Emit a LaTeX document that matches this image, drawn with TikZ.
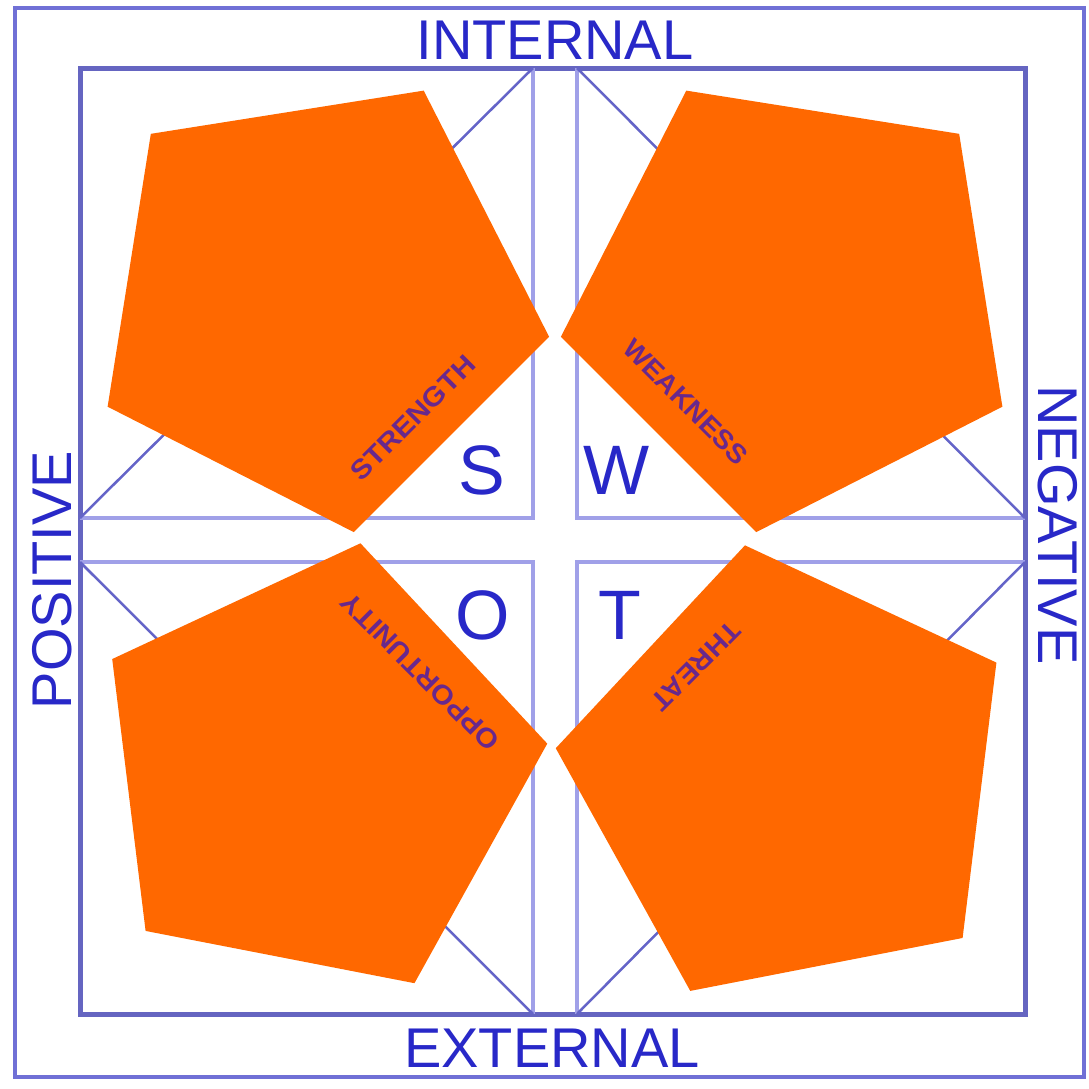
\documentclass[tikz,border=0pt]{standalone}
\usepackage{fontspec}
\setmainfont{Liberation Sans}
\definecolor{frameblue}{RGB}{112,112,214}
\definecolor{crossblue}{RGB}{160,160,232}
\definecolor{diagblue}{RGB}{100,100,200}
\definecolor{textblue}{RGB}{40,40,200}
\definecolor{swotorange}{RGB}{255,104,0}
\definecolor{labelpurple}{RGB}{105,40,140}
\newcommand{\orangepent}[4]{%
  \fill[pentfill] ({#1+#3*cos(#4)},{#2-#3*sin(#4)})
    -- ({#1+#3*cos(#4+72)},{#2-#3*sin(#4+72)})
    -- ({#1+#3*cos(#4+144)},{#2-#3*sin(#4+144)})
    -- ({#1+#3*cos(#4+216)},{#2-#3*sin(#4+216)})
    -- ({#1+#3*cos(#4+288)},{#2-#3*sin(#4+288)}) -- cycle;}
\begin{document}
\begin{tikzpicture}[x=1pt,y=-1pt,
  outerframe/.style={draw=frameblue,line width=4pt},
  innerframe/.style={draw=frameblue!90!black,line width=5pt},
  crossline/.style={draw=crossblue,line width=3.5pt},
  diagline/.style={draw=diagblue,line width=2.5pt},
  pentfill/.style={fill=swotorange},
  sidelabel/.style={text=textblue,inner sep=0pt,font=\fontsize{56}{60}\selectfont},
  bigletter/.style={text=textblue,inner sep=0pt,font=\fontsize{70}{74}\selectfont},
  edgelabel/.style={text=labelpurple,inner sep=0pt,font=\bfseries\fontsize{27}{30}\selectfont}]
\useasboundingbox[fill=white] (0,0) rectangle (1089,1088);
% frames
\draw[outerframe] (15,8) rectangle (1084,1077);
\draw[innerframe] (80,68) rectangle (1025,1014);
% named coordinates
\coordinate (tl) at (533,68);
\coordinate (tr) at (577,68);
\coordinate (bl) at (533,1014);
\coordinate (br) at (577,1014);
\coordinate (lu) at (80,518);
\coordinate (ll) at (80,562);
\coordinate (ru) at (1025,518);
\coordinate (rl) at (1025,562);
\coordinate (c1) at (533,518);
\coordinate (c2) at (577,518);
\coordinate (c3) at (533,562);
\coordinate (c4) at (577,562);
% cross lines
\draw[crossline] (tl) -- (c1) -- (lu);
\draw[crossline] (tr) -- (c2) -- (ru);
\draw[crossline] (ll) -- (c3) -- (bl);
\draw[crossline] (rl) -- (c4) -- (br);
% diagonals
\draw[diagline] (tl) -- (lu);
\draw[diagline] (tr) -- (ru);
\draw[diagline] (ll) -- (bl);
\draw[diagline] (rl) -- (br);
% pentagons
\orangepent{317}{300}{235}{135}
\orangepent{793}{300}{235}{45}
\orangepent{316}{772}{233}{7}
\orangepent{790}{777}{236}{29}
% side labels
\node[sidelabel] (internal) at (555,40) {INTERNAL};
\node[sidelabel] (external) at (552,1048) {EXTERNAL};
\node[sidelabel,rotate=90] (positive) at (52,580) {POSITIVE};
\node[sidelabel,rotate=-90] (negative) at (1058,525) {NEGATIVE};
% big letters
\node[bigletter] (S) at (482,470) {S};
\node[bigletter] (W) at (617,470) {W};
\node[bigletter] (O) at (483,615) {O};
\node[bigletter] (T) at (620,615) {T};
% edge labels
\node[edgelabel,rotate=45] (strength) at (413,418) {\scalebox{1.1}[1]{STRENGTH}};
\node[edgelabel,rotate=-45] (weakness) at (686,402) {\scalebox{1.05}[1]{WEAKNESS}};
\node[edgelabel,rotate=135] (opportunity) at (420,672) {\scalebox{1.08}[1]{OPPORTUNITY}};
\node[edgelabel,rotate=-135] (threat) at (696,666) {\scalebox{1.05}[1]{THREAT}};
\end{tikzpicture}
\end{document}
